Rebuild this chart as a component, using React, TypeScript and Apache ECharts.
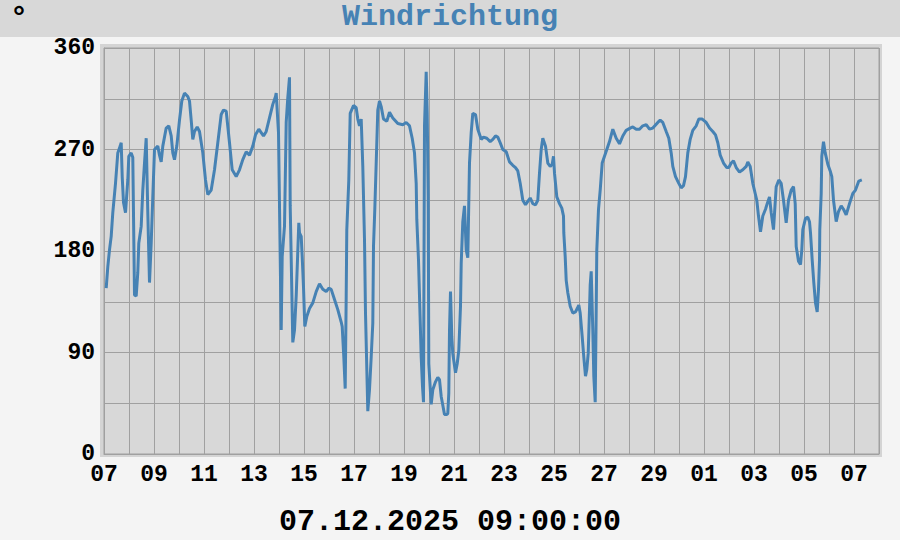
import React, { useEffect, useRef } from "react";
import * as echarts from "echarts";

const START = Date.UTC(2025, 10, 7);
const DAY = 86400000;

const dayOffset = [
  0.088, 0.152, 0.22, 0.288, 0.352, 0.46, 0.552, 0.648, 0.688, 0.728, 0.78, 0.86, 0.952, 0.992,
  1.088, 1.152, 1.22, 1.288, 1.352, 1.392, 1.488, 1.552, 1.62, 1.688, 1.752, 1.82, 1.888, 1.952,
  2.02, 2.152, 2.22, 2.288, 2.352, 2.488, 2.592, 2.688, 2.752, 2.82, 2.912,
  3.02, 3.112, 3.22, 3.352, 3.42, 3.488, 3.552, 3.62, 3.728, 3.82, 3.952,
  4.06, 4.152, 4.288, 4.42, 4.552, 4.688, 4.78, 4.888,
  5.02, 5.128, 5.288, 5.42, 5.552, 5.688, 5.82, 5.952,
  6.06, 6.192, 6.288, 6.38, 6.488, 6.62, 6.752, 6.86, 6.888, 6.98,
  7.088, 7.128, 7.22, 7.288, 7.352, 7.42, 7.448, 7.552, 7.62, 7.688, 7.792, 7.82, 7.888, 7.928, 7.98,
  8.032, 8.112, 8.22, 8.352, 8.488, 8.62, 8.752, 8.888, 8.992,
  9.088, 9.22, 9.352, 9.488, 9.528, 9.592, 9.648, 9.688, 9.712, 9.792, 9.848, 9.98,
  10.088, 10.152, 10.22, 10.288, 10.352, 10.42, 10.46, 10.552, 10.62, 10.688, 10.752, 10.78, 10.832, 10.952,
  11.02, 11.088, 11.18, 11.312, 11.42, 11.552, 11.752, 11.952,
  12.088, 12.22, 12.328, 12.42, 12.488, 12.512, 12.58, 12.62, 12.688, 12.74, 12.78, 12.82, 12.888, 12.928, 12.968, 12.992,
  13.088, 13.152, 13.26, 13.352, 13.42, 13.488, 13.62, 13.712, 13.752, 13.792, 13.82, 13.86, 13.912, 13.952,
  14.06, 14.128, 14.192, 14.26, 14.288, 14.352, 14.42, 14.488, 14.552, 14.62, 14.688, 14.752, 14.86, 14.952,
  15.088, 15.18, 15.312, 15.448, 15.552, 15.66, 15.752, 15.848, 15.952,
  16.088, 16.22, 16.352, 16.46, 16.552, 16.648, 16.752, 16.86, 16.952,
  17.048, 17.152, 17.26, 17.352, 17.42, 17.488, 17.552, 17.66, 17.752, 17.848, 17.928, 17.98,
  18.02, 18.112, 18.22, 18.312, 18.38, 18.392, 18.448, 18.488, 18.552, 18.648, 18.752, 18.86, 18.928, 18.992,
  19.048, 19.128, 19.192, 19.26, 19.312, 19.368, 19.42, 19.448, 19.488, 19.552, 19.592, 19.648, 19.688, 19.712, 19.78, 19.848, 19.928,
  20.02, 20.112, 20.22, 20.352, 20.488, 20.62, 20.752, 20.888,
  21.048, 21.152, 21.288, 21.42, 21.552, 21.688, 21.82, 21.952,
  22.152, 22.248, 22.352, 22.488, 22.592, 22.688, 22.752, 22.86, 22.992,
  23.088, 23.18, 23.26, 23.352, 23.448, 23.552, 23.688, 23.792, 23.928,
  24.088, 24.22, 24.352, 24.46, 24.552, 24.648, 24.78, 24.912, 24.992,
  25.088, 25.18, 25.288, 25.42, 25.552, 25.688, 25.752, 25.848, 25.952,
  26.048, 26.112, 26.18, 26.26, 26.352, 26.46, 26.528, 26.62, 26.688, 26.78, 26.888, 26.992,
  27.088, 27.18, 27.288, 27.38, 27.488, 27.58, 27.648, 27.688, 27.78, 27.86, 27.912, 27.952,
  28.06, 28.152, 28.22, 28.26, 28.328, 28.392, 28.46, 28.528, 28.58, 28.62, 28.632, 28.688, 28.712, 28.78, 28.848, 28.952,
  29.048, 29.112, 29.18, 29.288, 29.38, 29.488, 29.58, 29.688, 29.82, 29.952,
  30.06, 30.192, 30.312,
];

const direction = [
  147, 166, 181, 193, 214, 240, 267, 273, 276, 246, 223, 214, 243, 264, 267,
  263, 141, 140, 161, 187, 202, 234, 258, 280, 214, 152, 187, 228, 270,
  273, 265, 259, 273, 289, 291, 282, 267, 261, 273, 296,
  313, 320, 317, 313, 296, 279, 286, 290, 286, 267, 243,
  230, 234, 252, 276, 301, 305, 304, 276,
  252, 246, 252, 261, 268, 265, 273, 283,
  288, 285, 282, 286, 298, 310, 317, 320, 285, 110,
  175, 202, 294, 316, 334, 220, 99, 110, 140, 205, 196, 193, 175, 148, 113,
  122, 129, 134, 144, 151, 146, 144, 147, 146,
  137, 128, 117, 113, 86, 58, 140, 199, 243, 302, 309, 307,
  297, 291, 297, 255, 190, 125, 38, 57, 86, 116, 184, 217, 305, 313,
  308, 297, 295, 303, 298, 293, 292, 294,
  291, 280, 267, 240, 208, 172, 140, 86, 60, 46, 291, 339, 302, 228, 80, 44,
  57, 64, 68, 66, 51, 35, 35, 36, 54, 110, 144, 104, 89, 72,
  80, 92, 131, 169, 206, 220, 181, 174, 258, 285, 302, 301, 288, 279,
  281, 280, 277, 279, 282, 281, 276, 270, 268,
  259, 256, 254, 251, 240, 225, 221, 224, 227,
  222, 221, 225, 249, 270, 280, 273, 258, 255, 257, 264, 249,
  228, 222, 218, 211, 196, 175, 154, 143, 131, 125, 126, 129, 132, 125,
  104, 86, 69, 75, 89, 128, 150, 162, 110, 69, 46, 128, 181, 217, 234, 258, 264,
  270, 277, 288, 280, 275, 282, 287, 289,
  290, 288, 288, 291, 292, 288, 289, 294,
  296, 294, 286, 280, 267, 255, 246, 240, 236,
  238, 246, 267, 279, 287, 291, 297, 297, 294,
  289, 286, 283, 276, 265, 258, 254, 254, 258,
  260, 254, 250, 252, 255, 259, 255, 240, 231,
  225, 211, 197, 211, 217, 222, 228, 214, 199, 237, 243, 240,
  225, 205, 225, 234, 237, 222, 184, 171, 168, 181, 199, 209,
  210, 206, 196, 172, 152, 134, 126, 146, 172, 199, 231, 264, 277, 267, 257, 251,
  246, 225, 206, 215, 220, 217, 212, 222, 231, 234,
  242, 243, 250,
];

const yTicks = [0, 90, 180, 270, 360];
const titleText = "Windrichtung";
const unitText = "°";
const stampText = "07.12.2025 09:00:00";

const FONT = "'Liberation Mono', 'Courier New', monospace";

export default function App() {
  const ref = useRef<HTMLDivElement>(null);
  useEffect(() => {
    if (!ref.current) return;
    const chart = echarts.init(ref.current, null, { renderer: "svg" });
    const data = dayOffset.map((d, i) => [START + d * DAY, direction[i]]);
    chart.setOption({
      animation: false,
      backgroundColor: "#f4f4f4",
      graphic: [
        { type: "rect", z: -10, shape: { x: 0, y: 0, width: 900, height: 37 }, style: { fill: "#d8d8d8" } },
        { type: "rect", z: -10, shape: { x: 100, y: 44, width: 782, height: 413 }, style: { fill: "#d4d4d4" } },
        {
          type: "text", left: "center", top: 2,
          style: { text: titleText, font: `bold 30px ${FONT}`, fill: "#4682b4" },
        },
        {
          type: "text", left: 10, top: 4,
          style: { text: unitText, font: `bold 30px ${FONT}`, fill: "#000" },
        },
        {
          type: "text", left: "center", top: 507,
          style: { text: stampText, font: `bold 30px ${FONT}`, fill: "#000" },
        },
      ],
      grid: {
        left: 104, top: 48, width: 775, height: 406,
        show: true, backgroundColor: "#d8d8d8", borderColor: "#a0a0a0", borderWidth: 1,
      },
      xAxis: {
        type: "value",
        min: START,
        max: START + 31 * DAY,
        interval: DAY,
        axisLine: { show: true, lineStyle: { color: "#a0a0a0" } },
        axisTick: { show: false },
        splitLine: { show: true, lineStyle: { color: "#a0a0a0", width: 1 } },
        axisLabel: {
          margin: 9,
          fontFamily: FONT, fontWeight: "bold", fontSize: 23, color: "#000",
          showMaxLabel: false,
          formatter: (v: number) => {
            const idx = Math.round((v - START) / DAY);
            if (idx % 2 !== 0) return "";
            const d = new Date(v).getUTCDate();
            return String(d).padStart(2, "0");
          },
        },
      },
      yAxis: {
        type: "value",
        min: 0, max: 360, interval: 45,
        axisLine: { show: true, lineStyle: { color: "#a0a0a0" } },
        axisTick: { show: false },
        splitLine: { show: true, lineStyle: { color: "#a0a0a0", width: 1 } },
        axisLabel: {
          margin: 9,
          fontFamily: FONT, fontWeight: "bold", fontSize: 23, color: "#000",
          formatter: (v: number) => (yTicks.includes(v) ? String(v) : ""),
        },
      },
      series: [
        {
          type: "line",
          data,
          showSymbol: false,
          lineStyle: { color: "#4682b4", width: 3 },
          itemStyle: { color: "#4682b4" },
        },
      ],
    });
    return () => chart.dispose();
  }, []);
  return (
    <div
      ref={ref}
      style={{ position: "fixed", left: 0, top: 0, width: 900, height: 540, background: "#f4f4f4" }}
    />
  );
}
